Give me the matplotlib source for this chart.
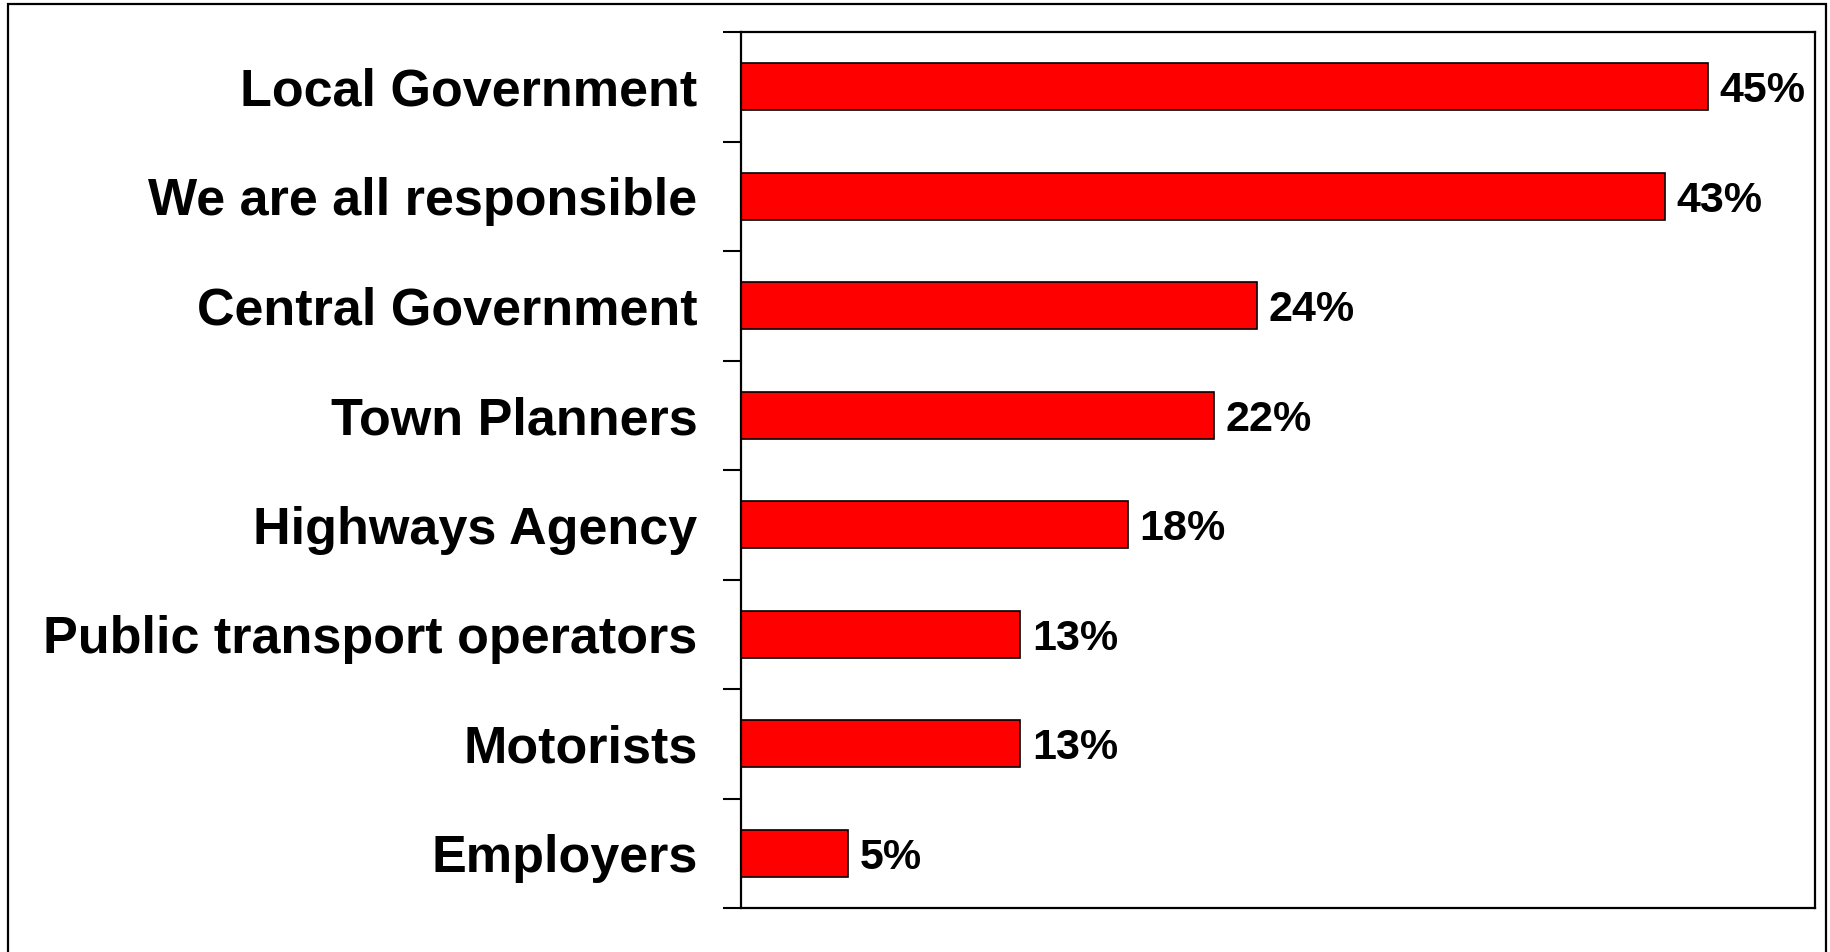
import matplotlib
matplotlib.use("Agg")
import matplotlib.pyplot as plt
from matplotlib.patches import Rectangle

# who is responsible (percent of respondents)
categories = [
    "Local Government",
    "We are all responsible",
    "Central Government",
    "Town Planners",
    "Highways Agency",
    "Public transport operators",
    "Motorists",
    "Employers",
]
values = [45, 43, 24, 22, 18, 13, 13, 5]
value_labels = ["45%", "43%", "24%", "22%", "18%", "13%", "13%", "5%"]

plt.rcParams['font.family'] = ['Liberation Sans', 'DejaVu Sans']

fig = plt.figure(figsize=(18.3, 9.52), dpi=100)
ax = fig.add_axes([741 / 1830, 1 - 908 / 952, (1815 - 741) / 1830, (908 - 32) / 952])

ypos = list(range(len(categories)))
ax.barh(ypos, values, height=0.43, color="#ff0000", edgecolor="black", linewidth=1.2)

for y, v, lab in zip(ypos, values, value_labels):
    ax.text(v + 0.55, y, lab, va="center_baseline", ha="left", fontsize=31, fontweight="bold")

ax.set_xlim(0, 50)
ax.set_ylim(len(categories) - 0.5, -0.5)

# category names as text, ticks at the boundaries
ax.set_yticks([i - 0.5 for i in range(len(categories) + 1)])
ax.set_yticklabels([])
ax.tick_params(axis="y", direction="out", length=13, width=1.5)
ax.set_xticks([])
for y, name in zip(ypos, categories):
    ax.text(-0.0405, y, name, transform=ax.get_yaxis_transform(), ha="right",
            va="center_baseline", fontsize=37.5, fontweight="bold")

for sp in ax.spines.values():
    sp.set_linewidth(1.6)

# outer frame
fig.patches.append(Rectangle((8 / 1830, -0.05), (1826 - 8) / 1830, 1.05 - 4 / 952,
                             transform=fig.transFigure, fill=False, edgecolor="black",
                             linewidth=1.6))

fig.savefig("out.png", dpi=100)
